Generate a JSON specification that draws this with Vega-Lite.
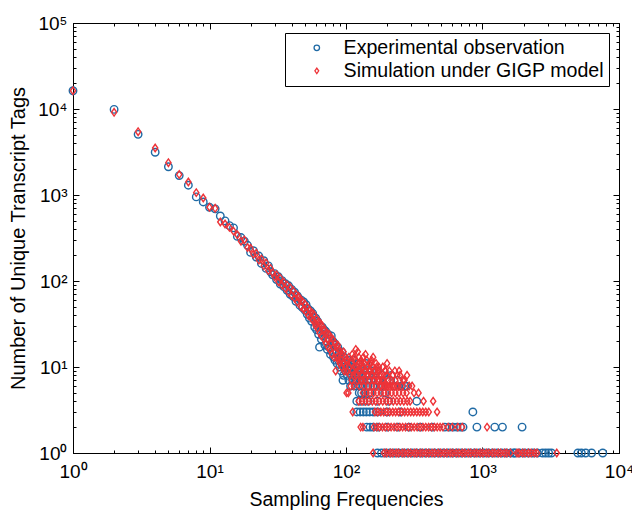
{
  "$schema": "https://vega.github.io/schema/vega-lite/v6.json",
  "width": 546,
  "height": 430,
  "autosize": {"type": "none"},
  "padding": {"left": 73, "top": 23, "right": 13, "bottom": 61},
  "background": "white",
  "config": {
    "view": {"stroke": "black", "strokeWidth": 1},
    "font": "Liberation Sans",
    "axis": {
      "grid": false, "domainColor": "black", "domainWidth": 1, "tickColor": "black", "tickWidth": 1,
      "labelColor": "black", "titleColor": "black", "labelFont": "Liberation Sans", "titleFont": "Liberation Sans",
      "labelFontSize": 19, "titleFontSize": 19, "titleFontWeight": "normal",
      "labelOverlap": false, "labelFlush": false, "labelBound": false
    },
    "legend": {"labelFont": "Liberation Sans"}
  },
  "data": {"values": [
    {"g":"E","x":1,"y":16300},{"g":"E","x":2,"y":9900},{"g":"E","x":3,"y":5070},{"g":"E","x":4,"y":3140},{"g":"E","x":5,"y":2130},{"g":"E","x":6,"y":1680},{"g":"E","x":7,"y":1300},{"g":"E","x":8,"y":950},{"g":"E","x":9,"y":830},{"g":"E","x":10,"y":720},
    {"g":"E","x":11,"y":690},{"g":"E","x":12,"y":570},{"g":"E","x":13,"y":500},{"g":"E","x":14,"y":440},{"g":"E","x":15,"y":415},{"g":"E","x":16,"y":330},{"g":"E","x":17,"y":320},{"g":"E","x":18,"y":290},{"g":"E","x":19,"y":260},{"g":"E","x":20,"y":215},
    {"g":"E","x":21,"y":225},{"g":"E","x":22,"y":190},{"g":"E","x":23,"y":195},{"g":"E","x":24,"y":160},{"g":"E","x":25,"y":172},{"g":"E","x":26,"y":140},{"g":"E","x":27,"y":150},{"g":"E","x":28,"y":128},{"g":"E","x":29,"y":118},{"g":"E","x":30,"y":122},
    {"g":"E","x":31,"y":104},{"g":"E","x":32,"y":112},{"g":"E","x":33,"y":92},{"g":"E","x":34,"y":101},{"g":"E","x":35,"y":86},{"g":"E","x":36,"y":93},{"g":"E","x":37,"y":78},{"g":"E","x":38,"y":88},{"g":"E","x":39,"y":70},{"g":"E","x":40,"y":80},
    {"g":"E","x":41,"y":66},{"g":"E","x":42,"y":74},{"g":"E","x":43,"y":58},{"g":"E","x":44,"y":67},{"g":"E","x":45,"y":63},{"g":"E","x":46,"y":52},{"g":"E","x":47,"y":60},{"g":"E","x":48,"y":49},{"g":"E","x":49,"y":57},{"g":"E","x":50,"y":46},
    {"g":"E","x":51,"y":53},{"g":"E","x":52,"y":41},{"g":"E","x":53,"y":47},{"g":"E","x":54,"y":37},{"g":"E","x":55,"y":45},{"g":"E","x":56,"y":34},{"g":"E","x":57,"y":42},{"g":"E","x":58,"y":38},{"g":"E","x":59,"y":29},{"g":"E","x":60,"y":37},
    {"g":"E","x":61,"y":27},{"g":"E","x":62,"y":34},{"g":"E","x":63,"y":24},{"g":"E","x":64,"y":17},{"g":"E","x":65,"y":30},{"g":"E","x":66,"y":21},{"g":"E","x":67,"y":29},{"g":"E","x":68,"y":23},{"g":"E","x":69,"y":27},{"g":"E","x":70,"y":18},
    {"g":"E","x":71,"y":26},{"g":"E","x":72,"y":20},{"g":"E","x":73,"y":16},{"g":"E","x":74,"y":24},{"g":"E","x":75,"y":17},{"g":"E","x":76,"y":21},{"g":"E","x":77,"y":14},{"g":"E","x":78,"y":23},{"g":"E","x":79,"y":15},{"g":"E","x":80,"y":20},
    {"g":"E","x":81,"y":13},{"g":"E","x":82,"y":19},{"g":"E","x":83,"y":12},{"g":"E","x":84,"y":18},{"g":"E","x":85,"y":15},{"g":"E","x":86,"y":11},{"g":"E","x":87,"y":17},{"g":"E","x":88,"y":12},{"g":"E","x":89,"y":14},{"g":"E","x":90,"y":10},
    {"g":"E","x":91,"y":13},{"g":"E","x":92,"y":9},{"g":"E","x":93,"y":15},{"g":"E","x":94,"y":11},{"g":"E","x":95,"y":7},{"g":"E","x":96,"y":8},{"g":"E","x":97,"y":13},{"g":"E","x":98,"y":10},{"g":"E","x":99,"y":9},{"g":"E","x":100,"y":11},
    {"g":"E","x":102,"y":8},{"g":"E","x":103,"y":12},{"g":"E","x":104,"y":10},{"g":"E","x":105,"y":7},{"g":"E","x":106,"y":9},{"g":"E","x":107,"y":9},{"g":"E","x":108,"y":6},{"g":"E","x":109,"y":10},{"g":"E","x":110,"y":8},{"g":"E","x":111,"y":11},
    {"g":"E","x":112,"y":7},{"g":"E","x":113,"y":9},{"g":"E","x":114,"y":12},{"g":"E","x":115,"y":9},{"g":"E","x":116,"y":7},{"g":"E","x":117,"y":6},{"g":"E","x":118,"y":10},{"g":"E","x":119,"y":8},{"g":"E","x":121,"y":7},{"g":"E","x":122,"y":9},
    {"g":"E","x":123,"y":11},{"g":"E","x":124,"y":8},{"g":"E","x":126,"y":6},{"g":"E","x":128,"y":8},{"g":"E","x":129,"y":7},{"g":"E","x":131,"y":10},{"g":"E","x":132,"y":7},{"g":"E","x":134,"y":6},{"g":"E","x":137,"y":9},{"g":"E","x":139,"y":8},
    {"g":"E","x":140,"y":11},{"g":"E","x":142,"y":7},{"g":"E","x":145,"y":6},{"g":"E","x":148,"y":8},{"g":"E","x":152,"y":7},{"g":"E","x":155,"y":9},{"g":"E","x":157,"y":6},{"g":"E","x":160,"y":6},{"g":"E","x":166,"y":7},{"g":"E","x":170,"y":9},
    {"g":"E","x":175,"y":7},{"g":"E","x":180,"y":6},{"g":"E","x":185,"y":8},{"g":"E","x":188,"y":6},{"g":"E","x":200,"y":7},{"g":"E","x":210,"y":7},{"g":"E","x":215,"y":8},{"g":"E","x":225,"y":6},{"g":"E","x":240,"y":7},
    {"g":"E","x":255,"y":6},{"g":"E","x":269,"y":6},{"g":"E","x":275,"y":6},
    {"g":"E","x":125,"y":5},{"g":"E","x":130,"y":5},{"g":"E","x":138,"y":5},{"g":"E","x":150,"y":5},{"g":"E","x":192,"y":5},
    {"g":"E","x":120,"y":4},{"g":"E","x":127,"y":4},{"g":"E","x":135,"y":4},{"g":"E","x":145,"y":4},{"g":"E","x":170,"y":4},{"g":"E","x":205,"y":4},{"g":"E","x":330,"y":4},
    {"g":"E","x":120,"y":3},{"g":"E","x":127,"y":3},{"g":"E","x":134,"y":3},{"g":"E","x":141,"y":3},{"g":"E","x":149,"y":3},{"g":"E","x":158,"y":3},{"g":"E","x":170,"y":3},{"g":"E","x":200,"y":3},{"g":"E","x":250,"y":3},{"g":"E","x":850,"y":3},
    {"g":"E","x":142,"y":2},{"g":"E","x":150,"y":2},{"g":"E","x":158,"y":2},{"g":"E","x":172,"y":2},{"g":"E","x":200,"y":2},{"g":"E","x":240,"y":2},{"g":"E","x":290,"y":2},{"g":"E","x":350,"y":2},{"g":"E","x":430,"y":2},{"g":"E","x":530,"y":2},
    {"g":"E","x":570,"y":2},{"g":"E","x":610,"y":2},{"g":"E","x":650,"y":2},{"g":"E","x":690,"y":2},{"g":"E","x":720,"y":2},{"g":"E","x":910,"y":2},{"g":"E","x":1230,"y":2},{"g":"E","x":1400,"y":2},{"g":"E","x":1950,"y":2},
    {"g":"E","x":170,"y":1},{"g":"E","x":182,"y":1},{"g":"E","x":195,"y":1},{"g":"E","x":210,"y":1},{"g":"E","x":226,"y":1},{"g":"E","x":243,"y":1},{"g":"E","x":262,"y":1},{"g":"E","x":282,"y":1},{"g":"E","x":304,"y":1},{"g":"E","x":328,"y":1},
    {"g":"E","x":354,"y":1},{"g":"E","x":382,"y":1},{"g":"E","x":412,"y":1},{"g":"E","x":445,"y":1},{"g":"E","x":480,"y":1},{"g":"E","x":518,"y":1},{"g":"E","x":559,"y":1},{"g":"E","x":603,"y":1},{"g":"E","x":650,"y":1},{"g":"E","x":701,"y":1},
    {"g":"E","x":756,"y":1},{"g":"E","x":815,"y":1},{"g":"E","x":879,"y":1},{"g":"E","x":948,"y":1},{"g":"E","x":1022,"y":1},{"g":"E","x":1102,"y":1},{"g":"E","x":1188,"y":1},{"g":"E","x":1281,"y":1},{"g":"E","x":1381,"y":1},{"g":"E","x":1489,"y":1},
    {"g":"E","x":1605,"y":1},{"g":"E","x":1700,"y":1},{"g":"E","x":1730,"y":1},{"g":"E","x":1865,"y":1},{"g":"E","x":2010,"y":1},{"g":"E","x":2167,"y":1},{"g":"E","x":2336,"y":1},{"g":"E","x":2518,"y":1},{"g":"E","x":2750,"y":1},{"g":"E","x":2900,"y":1},
    {"g":"E","x":3050,"y":1},{"g":"E","x":3200,"y":1},{"g":"E","x":5000,"y":1},{"g":"E","x":5300,"y":1},{"g":"E","x":5700,"y":1},{"g":"E","x":6300,"y":1},{"g":"E","x":7600,"y":1},

    {"g":"S","x":1,"y":16300},{"g":"S","x":2,"y":9150},{"g":"S","x":3,"y":5450},{"g":"S","x":4,"y":3520},{"g":"S","x":5,"y":2375},{"g":"S","x":6,"y":1730},{"g":"S","x":7,"y":1416},{"g":"S","x":8,"y":1065},{"g":"S","x":9,"y":923},{"g":"S","x":10,"y":720},
    {"g":"S","x":11,"y":700},{"g":"S","x":12,"y":485},{"g":"S","x":13,"y":460},{"g":"S","x":14,"y":420},{"g":"S","x":15,"y":380},{"g":"S","x":16,"y":345},{"g":"S","x":17,"y":290},{"g":"S","x":18,"y":300},{"g":"S","x":19,"y":245},{"g":"S","x":20,"y":240},
    {"g":"S","x":21,"y":205},{"g":"S","x":22,"y":210},{"g":"S","x":23,"y":175},{"g":"S","x":24,"y":180},{"g":"S","x":25,"y":150},{"g":"S","x":26,"y":162},{"g":"S","x":27,"y":132},{"g":"S","x":28,"y":140},{"g":"S","x":29,"y":125},{"g":"S","x":30,"y":112},
    {"g":"S","x":31,"y":118},{"g":"S","x":32,"y":98},{"g":"S","x":33,"y":108},{"g":"S","x":34,"y":90},{"g":"S","x":35,"y":97},{"g":"S","x":36,"y":82},{"g":"S","x":37,"y":90},{"g":"S","x":38,"y":74},{"g":"S","x":39,"y":84},{"g":"S","x":40,"y":68},
    {"g":"S","x":41,"y":77},{"g":"S","x":42,"y":63},{"g":"S","x":43,"y":70},{"g":"S","x":44,"y":57},{"g":"S","x":45,"y":66},{"g":"S","x":46,"y":61},{"g":"S","x":47,"y":50},{"g":"S","x":48,"y":58},{"g":"S","x":49,"y":47},{"g":"S","x":50,"y":54},
    {"g":"S","x":51,"y":44},{"g":"S","x":52,"y":50},{"g":"S","x":53,"y":40},{"g":"S","x":54,"y":46},{"g":"S","x":55,"y":38},{"g":"S","x":56,"y":43},{"g":"S","x":57,"y":35},{"g":"S","x":58,"y":41},{"g":"S","x":59,"y":33},{"g":"S","x":60,"y":30},
    {"g":"S","x":61,"y":36},{"g":"S","x":62,"y":28},{"g":"S","x":63,"y":34},{"g":"S","x":64,"y":25},{"g":"S","x":65,"y":32},{"g":"S","x":66,"y":23},{"g":"S","x":67,"y":30},{"g":"S","x":68,"y":27},{"g":"S","x":69,"y":21},{"g":"S","x":70,"y":27},
    {"g":"S","x":71,"y":19},{"g":"S","x":72,"y":25},{"g":"S","x":73,"y":21},{"g":"S","x":74,"y":17},{"g":"S","x":75,"y":24},{"g":"S","x":76,"y":16},{"g":"S","x":77,"y":22},{"g":"S","x":78,"y":19},{"g":"S","x":79,"y":14},{"g":"S","x":80,"y":21},
    {"g":"S","x":81,"y":17},{"g":"S","x":82,"y":13},{"g":"S","x":83,"y":19},{"g":"S","x":84,"y":9},{"g":"S","x":85,"y":17},{"g":"S","x":86,"y":13},{"g":"S","x":87,"y":18},{"g":"S","x":88,"y":12},{"g":"S","x":89,"y":16},{"g":"S","x":90,"y":11},
    {"g":"S","x":91,"y":15},{"g":"S","x":92,"y":12},{"g":"S","x":93,"y":10},{"g":"S","x":94,"y":14},{"g":"S","x":95,"y":11},{"g":"S","x":96,"y":15},{"g":"S","x":97,"y":9},{"g":"S","x":98,"y":13},{"g":"S","x":99,"y":10},{"g":"S","x":100,"y":12},
    {"g":"S","x":101,"y":9},{"g":"S","x":103,"y":12},{"g":"S","x":104,"y":5},{"g":"S","x":105,"y":13},{"g":"S","x":106,"y":10},{"g":"S","x":107,"y":8},{"g":"S","x":108,"y":6},{"g":"S","x":109,"y":11},{"g":"S","x":110,"y":7},{"g":"S","x":111,"y":14},
    {"g":"S","x":112,"y":9},{"g":"S","x":113,"y":8},{"g":"S","x":114,"y":6},{"g":"S","x":115,"y":13},{"g":"S","x":116,"y":10},{"g":"S","x":117,"y":12},{"g":"S","x":118,"y":16},{"g":"S","x":119,"y":8},{"g":"S","x":120,"y":10},{"g":"S","x":121,"y":7},
    {"g":"S","x":122,"y":15},{"g":"S","x":123,"y":9},{"g":"S","x":124,"y":13},{"g":"S","x":125,"y":6},{"g":"S","x":126,"y":11},{"g":"S","x":127,"y":9},{"g":"S","x":128,"y":7},{"g":"S","x":129,"y":12},{"g":"S","x":130,"y":11},{"g":"S","x":131,"y":8},
    {"g":"S","x":132,"y":7},{"g":"S","x":133,"y":10},{"g":"S","x":134,"y":13},{"g":"S","x":135,"y":6},{"g":"S","x":136,"y":9},{"g":"S","x":137,"y":11},{"g":"S","x":138,"y":7},{"g":"S","x":139,"y":14},{"g":"S","x":140,"y":9},{"g":"S","x":142,"y":12},
    {"g":"S","x":143,"y":8},{"g":"S","x":144,"y":10},{"g":"S","x":145,"y":6},{"g":"S","x":146,"y":8},{"g":"S","x":147,"y":9},{"g":"S","x":148,"y":11},{"g":"S","x":149,"y":7},{"g":"S","x":150,"y":9},{"g":"S","x":152,"y":11},{"g":"S","x":153,"y":8},
    {"g":"S","x":154,"y":12},{"g":"S","x":155,"y":6},{"g":"S","x":156,"y":8},{"g":"S","x":157,"y":10},{"g":"S","x":158,"y":13},{"g":"S","x":159,"y":7},{"g":"S","x":160,"y":9},{"g":"S","x":162,"y":7},{"g":"S","x":163,"y":9},{"g":"S","x":165,"y":6},
    {"g":"S","x":166,"y":11},{"g":"S","x":167,"y":8},{"g":"S","x":168,"y":10},{"g":"S","x":170,"y":7},{"g":"S","x":172,"y":9},{"g":"S","x":174,"y":10},{"g":"S","x":175,"y":8},{"g":"S","x":176,"y":7},{"g":"S","x":178,"y":6},{"g":"S","x":180,"y":8},
    {"g":"S","x":182,"y":6},{"g":"S","x":184,"y":7},{"g":"S","x":186,"y":10},{"g":"S","x":188,"y":7},{"g":"S","x":190,"y":6},{"g":"S","x":193,"y":9},{"g":"S","x":195,"y":9},{"g":"S","x":196,"y":6},{"g":"S","x":198,"y":8},{"g":"S","x":200,"y":11},
    {"g":"S","x":202,"y":6},{"g":"S","x":205,"y":7},{"g":"S","x":208,"y":9},{"g":"S","x":210,"y":6},{"g":"S","x":215,"y":7},{"g":"S","x":218,"y":6},{"g":"S","x":220,"y":8},{"g":"S","x":225,"y":6},{"g":"S","x":228,"y":9},{"g":"S","x":230,"y":7},
    {"g":"S","x":235,"y":6},{"g":"S","x":238,"y":8},{"g":"S","x":242,"y":6},{"g":"S","x":245,"y":9},{"g":"S","x":249,"y":8},{"g":"S","x":256,"y":6},{"g":"S","x":262,"y":7},{"g":"S","x":268,"y":7},{"g":"S","x":280,"y":8},{"g":"S","x":290,"y":6},
    {"g":"S","x":305,"y":6},{"g":"S","x":315,"y":5},{"g":"S","x":340,"y":5},{"g":"S","x":370,"y":4},
    {"g":"S","x":101,"y":5},{"g":"S","x":133,"y":5},{"g":"S","x":141,"y":5},{"g":"S","x":150,"y":5},{"g":"S","x":159,"y":5},{"g":"S","x":169,"y":5},{"g":"S","x":180,"y":5},{"g":"S","x":191,"y":5},{"g":"S","x":203,"y":5},{"g":"S","x":216,"y":5},
    {"g":"S","x":230,"y":5},{"g":"S","x":245,"y":5},{"g":"S","x":262,"y":5},{"g":"S","x":278,"y":5},
    {"g":"S","x":124,"y":4},{"g":"S","x":131,"y":4},{"g":"S","x":139,"y":4},{"g":"S","x":147,"y":4},{"g":"S","x":156,"y":4},{"g":"S","x":165,"y":4},{"g":"S","x":175,"y":4},{"g":"S","x":186,"y":4},{"g":"S","x":197,"y":4},{"g":"S","x":209,"y":4},
    {"g":"S","x":222,"y":4},{"g":"S","x":236,"y":4},{"g":"S","x":250,"y":4},{"g":"S","x":265,"y":4},{"g":"S","x":281,"y":4},{"g":"S","x":295,"y":4},{"g":"S","x":435,"y":4},
    {"g":"S","x":112,"y":3},{"g":"S","x":163,"y":3},{"g":"S","x":171,"y":3},{"g":"S","x":180,"y":3},{"g":"S","x":189,"y":3},{"g":"S","x":199,"y":3},{"g":"S","x":209,"y":3},{"g":"S","x":220,"y":3},{"g":"S","x":231,"y":3},{"g":"S","x":243,"y":3},
    {"g":"S","x":256,"y":3},{"g":"S","x":269,"y":3},{"g":"S","x":283,"y":3},{"g":"S","x":298,"y":3},{"g":"S","x":313,"y":3},{"g":"S","x":330,"y":3},{"g":"S","x":347,"y":3},{"g":"S","x":365,"y":3},{"g":"S","x":384,"y":3},{"g":"S","x":404,"y":3},{"g":"S","x":465,"y":3},
    {"g":"S","x":128,"y":2},{"g":"S","x":133,"y":2},{"g":"S","x":160,"y":2},{"g":"S","x":168,"y":2},{"g":"S","x":176,"y":2},{"g":"S","x":185,"y":2},{"g":"S","x":194,"y":2},{"g":"S","x":204,"y":2},{"g":"S","x":214,"y":2},{"g":"S","x":225,"y":2},
    {"g":"S","x":236,"y":2},{"g":"S","x":248,"y":2},{"g":"S","x":260,"y":2},{"g":"S","x":273,"y":2},{"g":"S","x":287,"y":2},{"g":"S","x":301,"y":2},{"g":"S","x":316,"y":2},{"g":"S","x":332,"y":2},{"g":"S","x":349,"y":2},{"g":"S","x":366,"y":2},
    {"g":"S","x":384,"y":2},{"g":"S","x":403,"y":2},{"g":"S","x":423,"y":2},{"g":"S","x":444,"y":2},{"g":"S","x":466,"y":2},{"g":"S","x":489,"y":2},{"g":"S","x":513,"y":2},{"g":"S","x":560,"y":2},{"g":"S","x":600,"y":2},{"g":"S","x":660,"y":2},
    {"g":"S","x":710,"y":2},{"g":"S","x":1080,"y":2},
    {"g":"S","x":158,"y":1},{"g":"S","x":190,"y":1},{"g":"S","x":199,"y":1},{"g":"S","x":211,"y":1},{"g":"S","x":220,"y":1},{"g":"S","x":233,"y":1},{"g":"S","x":243,"y":1},{"g":"S","x":258,"y":1},{"g":"S","x":269,"y":1},{"g":"S","x":285,"y":1},
    {"g":"S","x":298,"y":1},{"g":"S","x":316,"y":1},{"g":"S","x":330,"y":1},{"g":"S","x":349,"y":1},{"g":"S","x":365,"y":1},{"g":"S","x":386,"y":1},{"g":"S","x":404,"y":1},{"g":"S","x":427,"y":1},{"g":"S","x":447,"y":1},{"g":"S","x":473,"y":1},
    {"g":"S","x":495,"y":1},{"g":"S","x":523,"y":1},{"g":"S","x":548,"y":1},{"g":"S","x":580,"y":1},{"g":"S","x":606,"y":1},{"g":"S","x":641,"y":1},{"g":"S","x":672,"y":1},{"g":"S","x":710,"y":1},{"g":"S","x":742,"y":1},{"g":"S","x":786,"y":1},
    {"g":"S","x":822,"y":1},{"g":"S","x":870,"y":1},{"g":"S","x":910,"y":1},{"g":"S","x":962,"y":1},{"g":"S","x":1006,"y":1},{"g":"S","x":1065,"y":1},{"g":"S","x":1113,"y":1},{"g":"S","x":1180,"y":1},{"g":"S","x":1232,"y":1},{"g":"S","x":1305,"y":1},
    {"g":"S","x":1362,"y":1},{"g":"S","x":1445,"y":1},{"g":"S","x":1510,"y":1},{"g":"S","x":1600,"y":1},{"g":"S","x":1790,"y":1},{"g":"S","x":1850,"y":1},{"g":"S","x":1960,"y":1},{"g":"S","x":2050,"y":1},{"g":"S","x":2170,"y":1},{"g":"S","x":2270,"y":1},
    {"g":"S","x":2400,"y":1},{"g":"S","x":2510,"y":1},{"g":"S","x":3500,"y":1}
  ]},
  "layer": [
    {
      "mark": {"type": "point", "filled": false, "size": 56, "strokeWidth": 1.4, "opacity": 1, "clip": false},
      "encoding": {
        "x": {"field": "x", "type": "quantitative",
          "scale": {"type": "log", "domain": [1, 10000], "nice": false},
          "axis": {"orient": "bottom", "title": "Sampling Frequencies", "titlePadding": 6, "titleFontSize": 19.5,
            "values": [1,2,3,4,5,6,7,8,9,10,20,30,40,50,60,70,80,90,100,200,300,400,500,600,700,800,900,1000,2000,3000,4000,5000,6000,7000,8000,9000,10000],
            "labelExpr": "datum.value==1?'10\u2070':datum.value==10?'10\u00b9':datum.value==100?'10\u00b2':datum.value==1000?'10\u00b3':datum.value==10000?'10\u2074':''",
            "tickSize": {"condition": {"test": "indexof([1,10,100,1000,10000],datum.value)>=0", "value": -6}, "value": -3},
            "labelPadding": 15}},
        "y": {"field": "y", "type": "quantitative",
          "scale": {"type": "log", "domain": [1, 100000], "nice": false},
          "axis": {"orient": "left", "title": "Number of Unique Transcript Tags", "titlePadding": 9, "titleFontSize": 20,
            "values": [1,2,3,4,5,6,7,8,9,10,20,30,40,50,60,70,80,90,100,200,300,400,500,600,700,800,900,1000,2000,3000,4000,5000,6000,7000,8000,9000,10000,20000,30000,40000,50000,60000,70000,80000,90000,100000],
            "labelExpr": "datum.value==1?'10\u2070':datum.value==10?'10\u00b9':datum.value==100?'10\u00b2':datum.value==1000?'10\u00b3':datum.value==10000?'10\u2074':datum.value==100000?'10\u2075':''",
            "tickSize": {"condition": {"test": "indexof([1,10,100,1000,10000,100000],datum.value)>=0", "value": -6}, "value": -3},
            "labelPadding": 12}},
        "color": {"field": "g", "type": "nominal",
          "scale": {"domain": ["E", "S"], "range": ["#1f6aa5", "#ee3338"]},
          "legend": {"title": null, "orient": "top-right", "offset": 10, "strokeColor": "black", "padding": 5, "rowPadding": 2,
            "symbolSize": 30, "symbolStrokeWidth": 1.3, "symbolOffset": 17, "labelOffset": 17, "labelFontSize": 19.6, "labelColor": "black", "labelLimit": 600,
            "labelExpr": "datum.value=='E'?'Experimental observation':'Simulation under GIGP model\u00a0\u00a0\u00a0\u00a0'"}},
        "shape": {"field": "g", "type": "nominal",
          "scale": {"domain": ["E", "S"], "range": ["circle", "M-0.7,0L0,-1L0.7,0L0,1Z"]},
          "legend": {"title": null, "orient": "top-right", "offset": 10, "strokeColor": "black", "padding": 5, "rowPadding": 2,
            "symbolSize": 30, "symbolStrokeWidth": 1.3, "symbolOffset": 17, "labelOffset": 17, "labelFontSize": 19.6, "labelColor": "black", "labelLimit": 600,
            "labelExpr": "datum.value=='E'?'Experimental observation':'Simulation under GIGP model\u00a0\u00a0\u00a0\u00a0'"}}
      }
    },
    {
      "mark": {"type": "point", "opacity": 0},
      "encoding": {
        "x": {"field": "x", "type": "quantitative",
          "axis": {"orient": "top", "title": null, "labels": false,
            "values": [1,2,3,4,5,6,7,8,9,10,20,30,40,50,60,70,80,90,100,200,300,400,500,600,700,800,900,1000,2000,3000,4000,5000,6000,7000,8000,9000,10000],
            "tickSize": {"condition": {"test": "indexof([1,10,100,1000,10000],datum.value)>=0", "value": -6}, "value": -3}}},
        "y": {"field": "y", "type": "quantitative",
          "axis": {"orient": "right", "title": null, "labels": false,
            "values": [1,2,3,4,5,6,7,8,9,10,20,30,40,50,60,70,80,90,100,200,300,400,500,600,700,800,900,1000,2000,3000,4000,5000,6000,7000,8000,9000,10000,20000,30000,40000,50000,60000,70000,80000,90000,100000],
            "tickSize": {"condition": {"test": "indexof([1,10,100,1000,10000,100000],datum.value)>=0", "value": -6}, "value": -3}}}
      }
    }
  ],
  "resolve": {"axis": {"x": "independent", "y": "independent"}}
}
